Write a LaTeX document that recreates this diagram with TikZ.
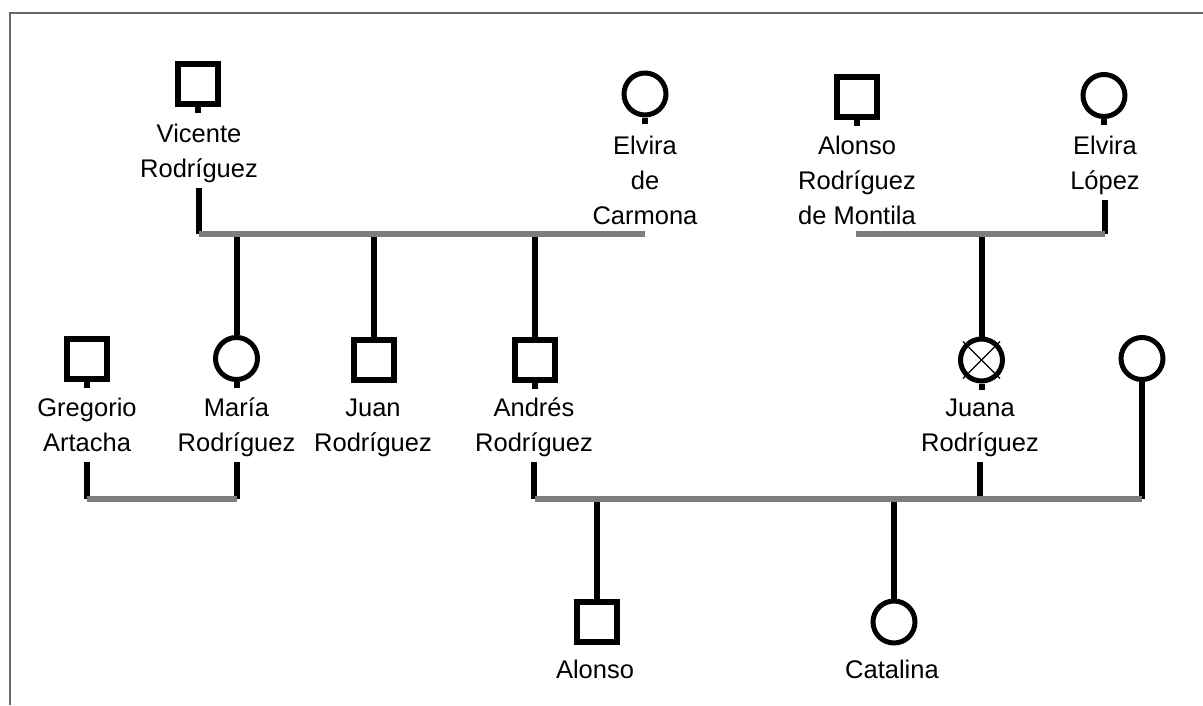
\documentclass[tikz,border=0pt]{standalone}
\usepackage{fontspec}
\setmainfont{Liberation Sans}
\begin{document}
\begin{tikzpicture}[x=1pt,y=-1pt,
  male/.style={draw=black, rectangle, line width=6pt, minimum size=40pt, inner sep=0pt, fill=white},
  female/.style={draw=black, circle, line width=5pt, minimum size=42pt, inner sep=0pt, fill=white},
  lbl/.style={align=center, anchor=north, inner sep=0pt, font=\fontsize{25.5}{35}\selectfont},
  kin/.style={draw=black, line width=6pt},
  bar/.style={draw={rgb,255:red,125;green,125;blue,125}, line width=6pt, line cap=square},
  frameline/.style={draw=black!60, line width=2pt},
  crossline/.style={draw=black, line width=1.3pt}]
\useasboundingbox (0,0) rectangle (1203,705);
\draw[frameline] (9.5,705) -- (9.5,13) -- (1203,13);

% generation 1
\node[male] (vicente) at (198,84) {};
\node[lbl] (vicenteL) at (199,117.5) {\strut Vicente\\Rodríguez\strut};
\node[female] (elvirac) at (645,94) {};
\node[lbl] (elvircL) at (645,129.5) {\strut Elvira\\de\\Carmona\strut};
\node[male] (alonsom) at (857,96.5) {};
\node[lbl] (alonsomL) at (857,129.5) {\strut Alonso\\Rodríguez\\de Montila\strut};
\node[female] (elviral) at (1104,95.5) {};
\node[lbl] (elviralL) at (1105,129.5) {\strut Elvira\\López\strut};

% generation 2
\node[male] (gregorio) at (86.5,359) {};
\node[lbl] (gregorioL) at (87,391.5) {\strut Gregorio\\Artacha\strut};
\node[female] (maria) at (236.5,358.5) {};
\node[lbl] (mariaL) at (236.5,391.5) {\strut María\\Rodríguez\strut};
\node[male] (juan) at (373.5,360) {};
\node[lbl] (juanL) at (373,391.5) {\strut Juan\\Rodríguez\strut};
\node[male] (andres) at (534.5,360) {};
\node[lbl] (andresL) at (534,391.5) {\strut Andrés\\Rodríguez\strut};
\node[female] (juana) at (981.5,360) {};
\node[lbl] (juanaL) at (980,391.5) {\strut Juana\\Rodríguez\strut};
\node[female] (unk) at (1142,358.5) {};

% generation 3
\node[male] (alonso) at (597,622) {};
\node[lbl] (alonsoL) at (595,653.5) {\strut Alonso};
\node[female] (catalina) at (894,622) {};
\node[lbl] (catalinaL) at (892,653.5) {\strut Catalina};

% cross on Juana
\draw[crossline] ([shift={(-18.5pt,18.5pt)}]juana.center) -- ([shift={(18.5pt,-18.5pt)}]juana.center);
\draw[crossline] ([shift={(18.5pt,18.5pt)}]juana.center) -- ([shift={(-18.5pt,-18.5pt)}]juana.center);

% marriage bar coordinates
\coordinate (c1L) at (199,233.5);
\coordinate (c1R) at (645,233.5);
\coordinate (c2L) at (856,233.5);
\coordinate (c2R) at (1105,233.5);
\coordinate (c3L) at (87,498.5);
\coordinate (c3R) at (236.5,498.5);
\coordinate (c4L) at (535,498.5);
\coordinate (c4R) at (1142,498.5);

% stubs under spouses
\foreach \p in {vicente,elvirac,alonsom,elviral,gregorio,maria,andres,juana}
  \draw[kin] (\p.south) -- ++(0,6);

% couple lines
\draw[kin] (vicenteL.south) -- (vicenteL.south |- c1L);
\draw[kin] (elviralL.south) -- (elviralL.south |- c2R);
\draw[kin] (gregorioL.south) -- (gregorioL.south |- c3L);
\draw[kin] (mariaL.south) -- (mariaL.south |- c3R);
\draw[kin] (andresL.south) -- (andresL.south |- c4L);
\draw[kin] (juanaL.south) -- (juanaL.south |- c4L);
\draw[kin] (unk.south) -- (unk.south |- c4R);

% descent lines
\draw[kin] (maria.north) -- (maria.north |- c1L);
\draw[kin] (juan.north) -- (juan.north |- c1L);
\draw[kin] (andres.north) -- (andres.north |- c1L);
\draw[kin] (juana.north) -- (juana.north |- c2L);
\draw[kin] (alonso.north) -- (alonso.north |- c4L);
\draw[kin] (catalina.north) -- (catalina.north |- c4L);

% bars
\draw[bar] (c1L) -- (c1R);
\draw[bar] (c2L) -- (c2R);
\draw[bar] (c3L) -- (c3R);
\draw[bar] (c4L) -- (c4R);
\end{tikzpicture}
\end{document}
